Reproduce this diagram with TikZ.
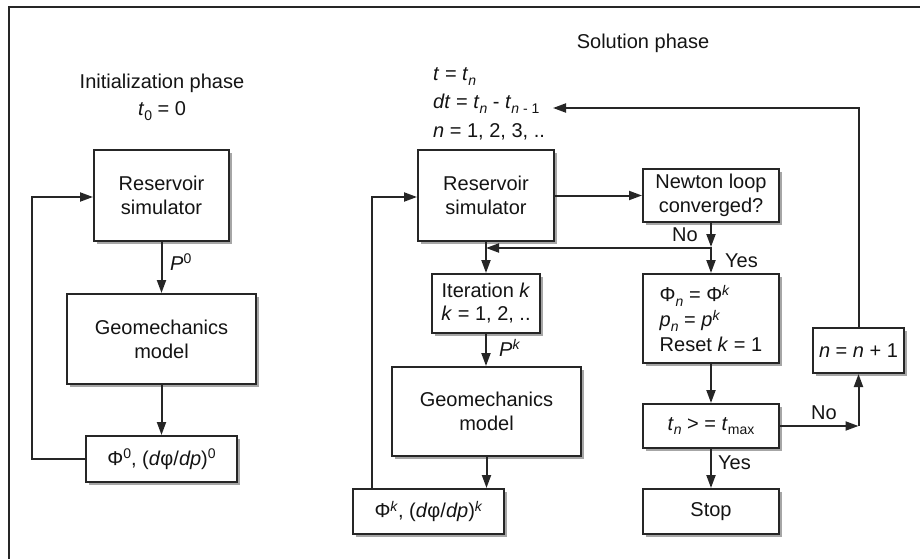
\documentclass[tikz,border=0pt]{standalone}
\usepackage{fontspec}
\setmainfont{Liberation Sans}
\usetikzlibrary{arrows.meta,shadows}
\definecolor{ink}{HTML}{141414}
\definecolor{edge}{HTML}{262626}
% small raised / lowered indices in the text font
\newcommand{\lsub}[1]{\raisebox{-0.45ex}{\fontsize{14}{14}\selectfont #1}}
\newcommand{\lsup}[1]{\raisebox{0.65ex}{\fontsize{14}{14}\selectfont #1}}
\begin{document}
\begin{tikzpicture}[x=1pt,y=-1pt,
  lbl/.style={font=\fontsize{20}{24}\selectfont, text=ink, inner sep=0pt},
  blk/.style={draw=edge, line width=2pt, fill=white, align=center, inner sep=0pt,
    font=\fontsize{20}{24}\selectfont, text=ink,
    drop shadow={shadow xshift=2.5pt, shadow yshift=-2.5pt, fill=black!35, opacity=1}},
  arr/.style={draw=edge, line width=2pt, -{Triangle[length=13pt,width=9pt]}},
  wire/.style={draw=edge, line width=2pt}]
\useasboundingbox (0,0) rectangle (920,559);
\fill[white] (0,0) rectangle (920,559);
% page frame
\draw[edge, line width=1.5pt] (9,559) -- (9,7) -- (920,7);

% ---------------- initialization phase ----------------
\node[lbl] (ititle) at (162,83) {Initialization phase};
\node[lbl] (itime) at (162,111) {\textit{t}\lsub{0} = 0};
\node[blk, minimum width=135pt, minimum height=91pt] (res1) at (161.5,195.5) {Reservoir\\simulator};
\node[blk, minimum width=189pt, minimum height=90pt] (geo1) at (161.5,339) {Geomechanics\\model};
\node[blk, minimum width=151pt, minimum height=46pt] (phi0) at (161.5,459) {Φ\lsup{0}, (\textit{d}φ/\textit{dp})\lsup{0}};
\draw[arr] (res1.south) -- (geo1.north);
\node[lbl, anchor=west] (p0) at (170,262) {\textit{P}\lsup{0}};
\draw[arr] (geo1.south) -- (phi0.north);
\coordinate (fb1) at (32,197);
\draw[arr] (phi0.west) -- (phi0.west -| fb1) -- (fb1) -- (res1.west |- fb1);

% ---------------- solution phase ----------------
\node[lbl] (stitle) at (643,43) {Solution phase};
\node[lbl, anchor=base west] (tl1) at (433,81) {\textit{t} = \textit{t}\lsub{\textit{n}}};
\node[lbl, anchor=base west] (tl2) at (433,109) {\textit{dt} = \textit{t}\lsub{\textit{n}} - \textit{t}\lsub{\textit{n} - 1}};
\node[lbl, anchor=base west] (tl3) at (433,137) {\textit{n} = 1, 2, 3, ..};

\node[blk, minimum width=136pt, minimum height=91pt] (res2) at (486,195.5) {Reservoir\\simulator};
\node[blk, minimum width=136pt, minimum height=53pt] (newton) at (711,195.5) {Newton loop\\converged?};
\node[blk, minimum width=108pt, minimum height=59pt, font=\fontsize{20}{23}\selectfont] (iter) at (486,303.5) {Iteration \textit{k}\\\textit{k} = 1, 2, ..};
\node[blk, minimum width=189pt, minimum height=89pt] (geo2) at (486.5,411.5) {Geomechanics\\model};
\node[blk, minimum width=151pt, minimum height=45pt] (phik) at (428.5,511.5) {Φ\lsup{\textit{k}}, (\textit{d}φ/\textit{dp})\lsup{\textit{k}}};
\node[blk, minimum width=136pt, minimum height=89pt, align=left, font=\fontsize{20}{25}\selectfont] (phin) at (711,318.5)
  {Φ\lsub{\textit{n}} = Φ\lsup{\textit{k}}\\\textit{p}\lsub{\textit{n}} = \textit{p}\lsup{\textit{k}}\\Reset \textit{k} = 1};
\node[blk, minimum width=136pt, minimum height=44pt] (tn) at (711,426) {\textit{t}\lsub{\textit{n}} > = \textit{t}\lsub{max}};
\node[blk, minimum width=136pt, minimum height=45pt] (stop) at (711,511.5) {Stop};
\node[blk, minimum width=91pt, minimum height=45pt] (nn) at (858.5,350.5) {\textit{n} = \textit{n} + 1};

% connectors
\draw[arr] (res2.east) -- (newton.west);
\coordinate (nj) at (711,248);
\draw[arr] (newton.south) -- ([yshift=1pt]nj);
\draw[wire] ([yshift=1pt]nj) -- (nj);
\draw[arr] (nj) -- (phin.north);
\draw[arr] (nj) -- (nj -| res2.south);
\node[lbl, anchor=east] (nolbl) at (698,235) {No};
\node[lbl, anchor=west] (yeslbl) at (725,261) {Yes};
\draw[arr] (res2.south) -- (iter.north);
\draw[arr] (iter.south) -- (iter.south |- geo2.north);
\node[lbl, anchor=west] (pk) at (499,348) {\textit{P}\lsup{\textit{k}}};
\draw[arr] (geo2.south) -- (geo2.south |- phik.north);
\coordinate (fb2) at (372,197);
\draw[arr] (fb2 |- phik.north) -- (fb2) -- (res2.west |- fb2);
\draw[arr] (phin.south) -- (tn.north);
\draw[arr] (tn.south) -- (stop.north);
\node[lbl, anchor=west] (yes2) at (718,463) {Yes};
\coordinate (nc) at (nn.south |- tn.east);
\draw[arr] (tn.east) -- (nc);
\draw[arr] (nc) -- (nn.south);
\node[lbl] (no2) at (824,413) {No};
\coordinate (ret) at (553,108);
\draw[arr] (nn.north) |- (ret);
\end{tikzpicture}
\end{document}
